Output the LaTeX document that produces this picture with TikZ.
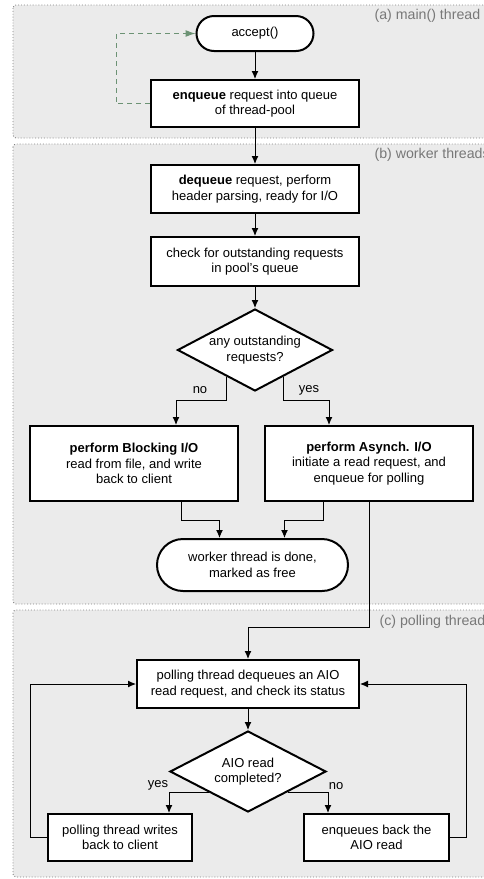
\documentclass[tikz,border=0pt]{standalone}
\usepackage{fontspec}
\setmainfont{Liberation Sans}
\usetikzlibrary{shapes.geometric,arrows.meta,calc}
\definecolor{regionfill}{RGB}{235,235,235}
\definecolor{regionline}{RGB}{130,130,130}
\definecolor{regiontext}{RGB}{120,120,120}
\definecolor{loopgreen}{RGB}{108,146,116}

\begin{document}
\begin{tikzpicture}[x=1pt, y=-1pt,
	every node/.style={font=\fontsize{13}{15.5}\selectfont, align=center},
	stepbox/.style={draw, line width=2pt, fill=white, inner sep=0pt},
	endbox/.style={draw, line width=2pt, fill=white, inner sep=0pt},
	choice/.style={draw, diamond, line width=2pt, fill=white, inner sep=0pt, aspect=1.87},
	conn/.style={line width=1pt, -{Latex[length=8pt,width=7pt]}},
	loopconn/.style={draw=loopgreen, line width=1pt, dash pattern=on 5pt off 4pt, -{Latex[length=10pt,width=7pt]}},
	region/.style={draw=regionline, fill=regionfill, line width=.9pt, dash pattern=on .9pt off 2pt, rounded corners=3pt},
	tag/.style={text=regiontext, anchor=west, font=\fontsize{14.2}{16}\selectfont}]

				\useasboundingbox (0,0) rectangle (484,879);
				\clip (0,0) rectangle (484,879);

				\draw[region] (13,5) rectangle (500,138);
				\draw[region] (13,144) rectangle (500,604);
				\draw[region] (13,610) rectangle (500,877);
				\node[tag] (tagmain) at (371,16) {(a) main() thread};
				\node[tag] (tagworker) at (371,155) {(b) worker threads};
				\node[tag] (tagpoll) at (376,622) {(c) polling thread};

				\node[endbox, minimum width=117pt, minimum height=35pt, rounded corners=17.5pt] (accept) at (255,33.5) {accept()};
				\node[stepbox, minimum width=208pt, minimum height=47pt] (enqueue) at (255,103.5) {\textbf{enqueue} request into queue\\of thread-pool};
				\node[stepbox, minimum width=208pt, minimum height=48pt] (dequeue) at (255,189) {\textbf{dequeue} request, perform\\header parsing, ready for I/O};
				\node[stepbox, minimum width=208pt, minimum height=49pt] (check) at (255,261.5) {check for outstanding requests\\in pool's queue};
				\node[choice, minimum width=155pt, minimum height=82pt] (anyreq) at (255,350) {any outstanding\\requests?};
				\node[stepbox, minimum width=208pt, minimum height=75pt] (blocking) at (134,463.5) {\textbf{perform Blocking I/O}\\read from file, and write\\back to client};
				\node[stepbox, minimum width=208pt, minimum height=75pt] (async) at (369,463.5) {\textbf{perform Asynch. I/O}\\initiate a read request, and\\enqueue for polling};
				\node[endbox, minimum width=191pt, minimum height=52pt, rounded corners=26pt] (done) at (252.5,565) {worker thread is done,\\marked as free};

				\node[stepbox, minimum width=222pt, minimum height=48pt] (polldeq) at (248,684) {polling thread dequeues an AIO\\read request, and check its status};
				\node[choice, minimum width=156pt, minimum height=81pt] (aiodone) at (248,771.5) {AIO read\\completed?};
				\node[stepbox, minimum width=144pt, minimum height=47pt] (writeback) at (120,837.5) {polling thread writes\\back to client};
				\node[stepbox, minimum width=145pt, minimum height=47pt] (requeue) at (376.5,837.5) {enqueues back the\\AIO read};

				\draw[conn] (accept) -- (enqueue);
				\draw[loopconn] (enqueue.west) -- ++(-34,0) |- (accept.west);
				\draw[conn] (enqueue) -- (dequeue);
				\draw[conn] (dequeue) -- (check);
				\draw[conn] (check) -- (anyreq);
				\draw[conn] ($(anyreq.west)!.635!(anyreq.south)$) -- ++(0,24) -| ([xshift=42pt]blocking.north);
				\draw[conn] ($(anyreq.east)!.635!(anyreq.south)$) -- ++(0,24) -| ([xshift=-40pt]async.north);
				\node (nolbl) at (200,390) {no};
				\node (yeslbl) at (309,390) {yes};
				\draw[conn] ([xshift=47pt]blocking.south) -- ++(0,18) -| ([xshift=-33pt]done.north);
				\draw[conn] ([xshift=-46pt]async.south) -- ++(0,18) -| ([xshift=32pt]done.north);
				\draw[conn] (async.south) -- ++(0,125) -| (polldeq.north);

				\draw[conn] (polldeq) -- (aiodone);
				\draw[conn] (aiodone.south west) -| ([xshift=49pt]writeback.north);
				\draw[conn] (aiodone.south east) -| ([xshift=-48.5pt]requeue.north);
				\node (yeslbl2) at (158,785) {yes};
				\node (nolbl2) at (336,786) {no};
				\draw[conn] (writeback.west) -- ++(-17,0) |- (polldeq.west);
				\draw[conn] (requeue.east) -- ++(16,0) |- (polldeq.east);

			\end{tikzpicture}
\end{document}
